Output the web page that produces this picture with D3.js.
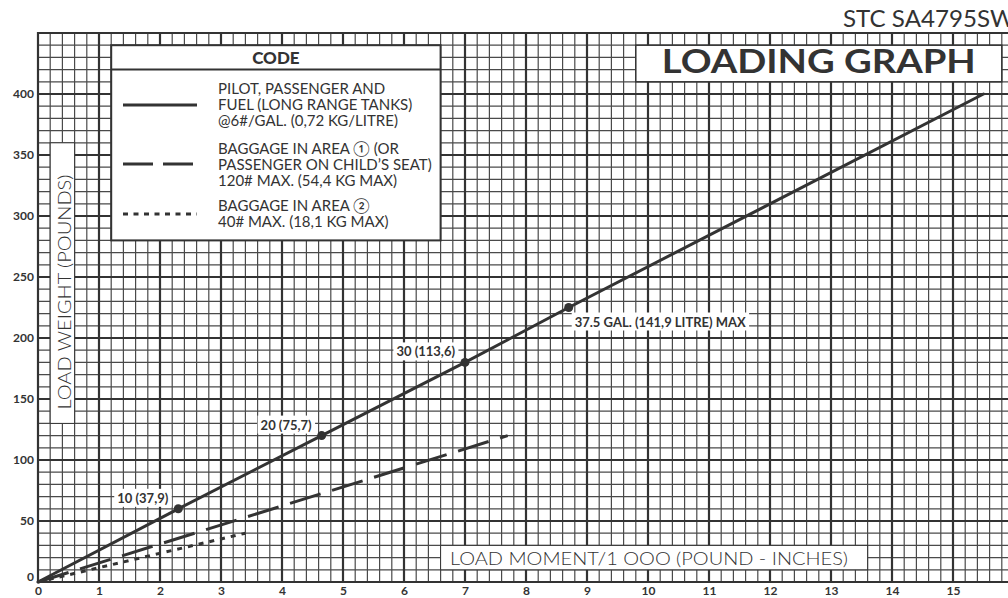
<!DOCTYPE html>
<html>
<head>
<meta charset="utf-8">
<script src="https://cdn.jsdelivr.net/npm/d3@7"></script>
<style>
  body { margin: 0; background: #fff; }
  svg { display: block; font-family: Lato, "Open Sans", sans-serif; }
</style>
</head>
<body>
<svg id="chart" width="1008" height="598"></svg>
<script>
/* Loading graph */

// data
var fuelMoment = [0, 2.3, 4.65, 7.0, 8.7, 15.5],
    fuelWeight = [0, 60, 120, 180, 225, 400];

var bag1Moment = [0, 7.7],
    bag1Weight = [0, 120];

var bag2Moment = [0, 3.4],
    bag2Weight = [0, 40];

var markMoment = [2.3, 4.65, 7.0, 8.7],
    markWeight = [60, 120, 180, 225],
    markLabels = ['10 (37,9)', '20 (75,7)', '30 (113,6)', '37.5 GAL. (141,9 LITRE) MAX'];

var xTicks = d3.range(0, 16),
    yTicks = d3.range(0, 401, 50);

var legendLines = [
    ['PILOT, PASSENGER AND', 'FUEL (LONG RANGE TANKS)', '@6#/GAL. (0,72 KG/LITRE)'],
    ['BAGGAGE IN AREA \u2460 (OR', 'PASSENGER ON CHILD\u2019S SEAT)', '120# MAX. (54,4 KG MAX)'],
    ['BAGGAGE IN AREA \u2461', '40# MAX. (18,1 KG MAX)']
];

/* Setup */

var svg = d3.select('#chart'),
    ink = '#333';

var x = d3.scaleLinear().domain([0, 16]).range([38, 1014]),
    y = d3.scaleLinear().domain([0, 450]).range([582, 33]);

/* Grid */

var grid = svg.append('g');

grid.selectAll('.vmin').data(d3.range(0, 81).map(function (i) { return i / 5; }))
    .enter().append('line')
    .attr('x1', function (d) { return x(d); }).attr('x2', function (d) { return x(d); })
    .attr('y1', y(0)).attr('y2', y(450))
    .style('stroke', '#4a4a4a').style('stroke-width', 1.2);

grid.selectAll('.hmin').data(d3.range(0, 451, 10))
    .enter().append('line')
    .attr('y1', function (d) { return y(d); }).attr('y2', function (d) { return y(d); })
    .attr('x1', x(0)).attr('x2', x(16))
    .style('stroke', '#4a4a4a').style('stroke-width', 1.2);

grid.selectAll('.vmaj').data(d3.range(0, 17))
    .enter().append('line')
    .attr('x1', function (d) { return x(d); }).attr('x2', function (d) { return x(d); })
    .attr('y1', y(0) + 1).attr('y2', y(450) - 1)
    .style('stroke', ink).style('stroke-width', 2.2);

grid.selectAll('.hmaj').data(d3.range(0, 451, 50).concat([450]))
    .enter().append('line')
    .attr('y1', function (d) { return y(d); }).attr('y2', function (d) { return y(d); })
    .attr('x1', x(0) - 1).attr('x2', x(16))
    .style('stroke', ink).style('stroke-width', 2.2);

/* Axes */

var xAxis = svg.append('g')
    .attr('transform', 'translate(0,' + (y(0) + 2) + ')')
    .call(d3.axisBottom(x).tickValues(xTicks).tickSize(0).tickPadding(2));

var yAxis = svg.append('g')
    .attr('transform', 'translate(' + (x(0) - 4) + ',0)')
    .call(d3.axisLeft(y).tickValues(yTicks).tickSize(0).tickPadding(0));

[xAxis, yAxis].forEach(function (a) {
    a.select('.domain').remove();
    a.selectAll('text')
        .style('font-family', 'Lato, sans-serif')
        .style('font-weight', 'bold')
        .style('fill', ink);
});
xAxis.selectAll('text').style('font-size', '12px');
yAxis.selectAll('text').style('font-size', '12px');
yAxis.selectAll('.tick').filter(function (d) { return d === 0; })
    .select('text').attr('dy', '-0.1em');

/* Boxes over the grid */

function box(x0, x1, y0, y1, w) {
    return svg.append('rect')
        .attr('x', x(x0)).attr('y', y(y1))
        .attr('width', x(x1) - x(x0)).attr('height', y(y0) - y(y1))
        .style('fill', '#fff').style('stroke', ink).style('stroke-width', w);
}

// legend
box(1.2, 6.6, 280, 440, 2);
svg.append('line')
    .attr('x1', x(1.2)).attr('x2', x(6.6)).attr('y1', y(420)).attr('y2', y(420))
    .style('stroke', ink).style('stroke-width', 2);
svg.append('text')
    .attr('x', (x(1.2) + x(6.6)) / 2).attr('y', 64)
    .attr('text-anchor', 'middle')
    .style('font-size', '17px').style('font-weight', 900).style('fill', ink)
    .text('CODE');

var keyY = [105, 164, 214],
    keyDash = [null, '30,10', '5,5.5'],
    keyBase = [94, 154, 211];

keyY.forEach(function (ky, i) {
    svg.append('line')
        .attr('x1', 123).attr('x2', 197).attr('y1', ky).attr('y2', ky)
        .style('stroke', ink).style('stroke-width', 3)
        .style('stroke-dasharray', keyDash[i]);
    svg.append('text')
        .attr('x', 218).attr('y', keyBase[i])
        .style('font-size', '15px').style('fill', ink)
        .selectAll('tspan').data(legendLines[i]).enter().append('tspan')
        .attr('x', 218).attr('dy', function (d, j) { return j ? 16 : 0; })
        .text(function (d) { return d; });
});

// title
box(9.8, 15.8, 410, 440, 1.5);
svg.append('text')
    .attr('x', (x(9.8) + x(15.8)) / 2).attr('y', 73)
    .attr('text-anchor', 'middle')
    .attr('textLength', 314).attr('lengthAdjust', 'spacingAndGlyphs')
    .style('font-size', '32px').style('font-weight', 'bold').style('fill', ink)
    .text('LOADING GRAPH');

svg.append('text')
    .attr('x', 843).attr('y', 27)
    .attr('textLength', 172).attr('lengthAdjust', 'spacingAndGlyphs')
    .style('font-size', '23px').style('fill', ink)
    .text('STC SA4795SW');

// axis titles
box(0.2, 0.6, 130, 360, 1);
svg.append('text')
    .attr('transform', 'translate(71,' + 292 + ') rotate(-90)')
    .attr('text-anchor', 'middle')
    .attr('textLength', 235).attr('lengthAdjust', 'spacingAndGlyphs')
    .style('font-size', '17px').style('font-weight', 300).style('fill', ink)
    .text('LOAD WEIGHT (POUNDS)');

box(6.6, 13.6, 10, 30, 1);
svg.append('text')
    .attr('x', 649).attr('y', 565)
    .attr('text-anchor', 'middle')
    .attr('textLength', 398).attr('lengthAdjust', 'spacingAndGlyphs')
    .style('font-size', '17px').style('font-weight', 300).style('fill', ink)
    .text('LOAD MOMENT/1 OOO (POUND - INCHES)');

/* Lines */

var line = d3.line()
    .x(function (d) { return x(d[0]); })
    .y(function (d) { return y(d[1]); });

function zip(a, b) { return a.map(function (v, i) { return [v, b[i]]; }); }

svg.append('path').datum(zip(bag2Moment, bag2Weight))
    .attr('d', line)
    .style('fill', 'none').style('stroke', ink).style('stroke-width', 3)
    .style('stroke-dasharray', '5,6');

svg.append('path').datum(zip(bag1Moment, bag1Weight))
    .attr('d', line)
    .style('fill', 'none').style('stroke', ink).style('stroke-width', 3)
    .style('stroke-dasharray', '32,12');

svg.append('path').datum(zip(fuelMoment, fuelWeight))
    .attr('d', line)
    .style('fill', 'none').style('stroke', ink).style('stroke-width', 3)
    .style('stroke-linecap', 'round');

/* Fuel marks */

var marks = svg.selectAll('.mark').data(zip(markMoment, markWeight))
    .enter().append('g');

marks.append('circle')
    .attr('cx', function (d) { return x(d[0]); })
    .attr('cy', function (d) { return y(d[1]); })
    .attr('r', 4.5)
    .style('fill', ink);

marks.each(function (d, i) {
    var g = d3.select(this),
        last = i === markLabels.length - 1,
        tx = x(d[0]) + (last ? 6 : -10),
        ty = y(d[1]) + (last ? 19 : -6);
    var t = g.append('text')
        .attr('x', tx).attr('y', ty)
        .attr('text-anchor', last ? 'start' : 'end')
        .style('font-size', '13px').style('font-weight', 'bold').style('fill', ink)
        .text(markLabels[i]);
    var b = t.node().getBBox();
    g.insert('rect', 'text')
        .attr('x', b.x - 3).attr('y', b.y - 1)
        .attr('width', b.width + 6).attr('height', b.height + 2)
        .style('fill', '#fff');
});
</script>
</body>
</html>
